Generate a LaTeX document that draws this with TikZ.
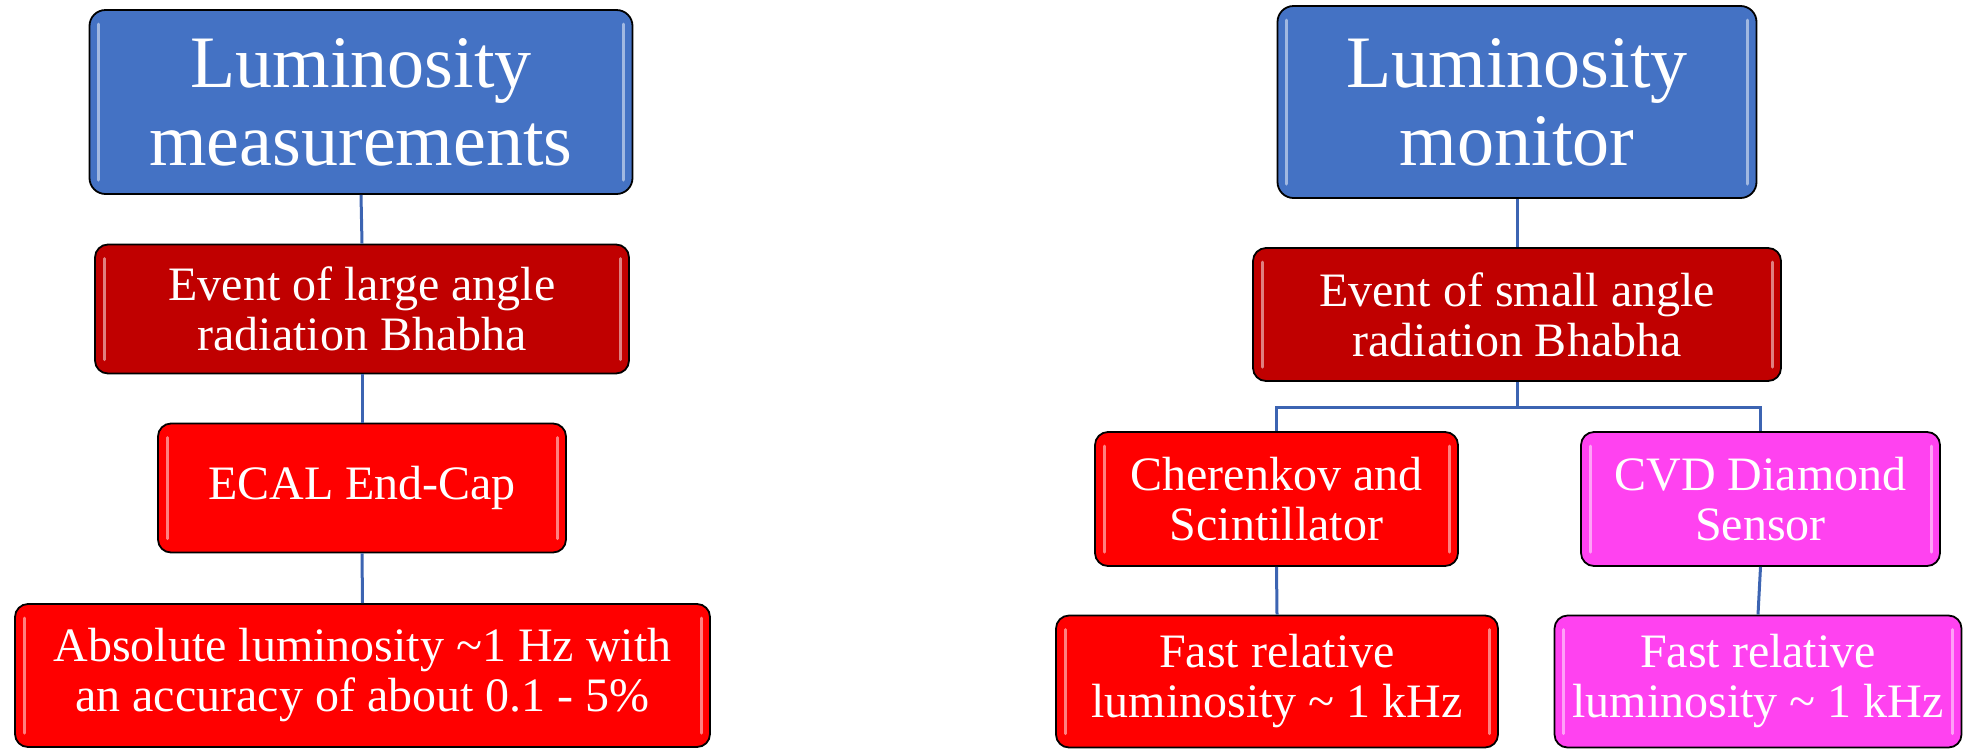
\documentclass[tikz,border=0pt]{standalone}
\usepackage{fontspec}
\setmainfont{Liberation Serif}
\usetikzlibrary{calc}
\definecolor{lumblue}{RGB}{68,114,196}
\definecolor{darkred}{RGB}{192,0,0}
\definecolor{brightred}{RGB}{255,0,0}
\definecolor{pinkmag}{RGB}{255,66,240}
\definecolor{linkblue}{RGB}{60,100,178}
\tikzset{
	gloss/.style={path picture={
		\draw[white, opacity=0.5, line width=3pt, line cap=round]
			([xshift=9pt,yshift=-14pt]path picture bounding box.north west) -- ([xshift=9pt,yshift=14pt]path picture bounding box.south west)
			([xshift=-9pt,yshift=-14pt]path picture bounding box.north east) -- ([xshift=-9pt,yshift=14pt]path picture bounding box.south east);
	}},
}
\begin{document}
\begin{tikzpicture}[x=1pt, y=-1pt,
		lumbox/.style={draw=black, line width=1.8pt, rounded corners=16pt, gloss, text=white, align=center, inner sep=0pt},
		headbox/.style={lumbox, fill=lumblue, font=\fontsize{74}{78}\selectfont},
		subbox/.style={lumbox, font=\fontsize{48}{50}\selectfont, rounded corners=13pt},
		link/.style={draw=linkblue, line width=3pt}]
	\useasboundingbox (0,0) rectangle (1964,748);
	%%%%% LEFT %%%%%
	\node[headbox, minimum width=543pt, minimum height=184pt] (lummeas) at (361,102) {Luminosity\\measurements};
	\node[subbox, fill=darkred, minimum width=534pt, minimum height=129pt] (lglarge) at (362,309) {Event of large angle\\radiation Bhabha};
	\node[subbox, fill=brightred, minimum width=408pt, minimum height=129pt] (ecal) at (362,488) {ECAL End-Cap};
	\node[subbox, fill=brightred, minimum width=695pt, minimum height=143pt] (absolute) at (362.5,675.5) {Absolute luminosity \char"7E\relax 1 Hz with\\an accuracy of about 0.1 - 5\%};
	
	\draw[link] (lummeas.south) -- (lglarge.north);
	\draw[link] (lglarge.south) -- (ecal.north);
	\draw[link] (ecal.south) -- (absolute.north);
	
	%%%%% RIGHT %%%%%
	\node[headbox, minimum width=479pt, minimum height=192pt] (lummon) at (1517,102) {Luminosity\\monitor};
	\node[subbox, fill=darkred, minimum width=528pt, minimum height=133pt] (lgsmall) at (1517,314.5) {Event of small angle\\radiation Bhabha};
	\node[subbox, fill=brightred, minimum width=363pt, minimum height=134pt] (cheren) at (1276.5,499) {Cherenkov and\\Scintillator};
	\node[subbox, fill=pinkmag, minimum width=359pt, minimum height=134pt] (cvd) at (1760.5,499) {CVD Diamond\\Sensor};
	\node[subbox, fill=brightred, minimum width=442pt, minimum height=132pt] (fastred) at (1277,681.5) {Fast relative\\luminosity \char"7E\relax{} 1 kHz};
	\node[subbox, fill=pinkmag, minimum width=407pt, minimum height=132pt] (fastmag) at (1758,681.5) {Fast relative\\luminosity \char"7E\relax{} 1 kHz};
	
	\coordinate (fork) at (1517,407);
	\draw[link] (lummon.south) -- (lgsmall.north);
	\draw[link] (lgsmall.south) -- (fork);
	\draw[link] (cheren.north) |- (fork) -| (cvd.north);
	\draw[link] (cheren.south) -- (fastred.north);
	\draw[link] (cvd.south) -- (fastmag.north);
\end{tikzpicture}
\end{document}
